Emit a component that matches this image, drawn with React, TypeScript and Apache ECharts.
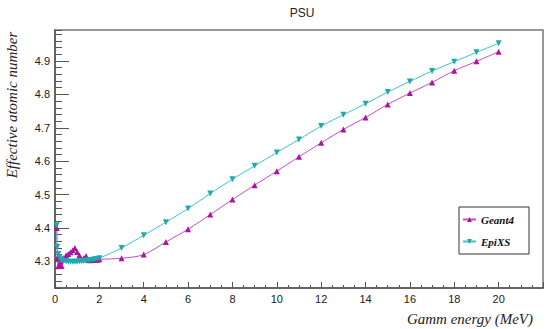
import React, { useEffect, useRef } from "react";
import * as echarts from "echarts";

const energies = [
  0.08, 0.1, 0.15, 0.2, 0.25, 0.3, 0.4, 0.5, 0.6, 0.7, 0.8, 0.9, 1.0, 1.1, 1.2, 1.3, 1.4, 1.5, 1.6, 1.7, 1.8, 1.9, 2.0,
  3, 4, 5, 6, 7, 8, 9, 10, 11, 12, 13, 14, 15, 16, 17, 18, 19, 20,
];

const geant4 = [
  4.4, 4.31, 4.285, 4.29, 4.3, 4.286, 4.31, 4.318, 4.322, 4.327, 4.333, 4.34, 4.328, 4.318, 4.306, 4.31, 4.316, 4.304,
  4.303, 4.304, 4.304, 4.305, 4.306,
  4.309, 4.32, 4.358, 4.396, 4.44, 4.485, 4.528, 4.57, 4.613, 4.655, 4.695, 4.731, 4.77, 4.804, 4.836, 4.871, 4.899, 4.928,
];

const epixs = [
  4.408, 4.343, 4.322, 4.312, 4.306, 4.303, 4.301, 4.3, 4.299, 4.299, 4.299, 4.299, 4.299, 4.3, 4.3, 4.301, 4.302, 4.303,
  4.304, 4.305, 4.306, 4.307, 4.309,
  4.34, 4.378, 4.417, 4.458, 4.503, 4.546, 4.586, 4.626, 4.665, 4.705, 4.739, 4.772, 4.807, 4.839, 4.87, 4.898, 4.926, 4.953,
];

const seriesNames = ["Geant4", "EpiXS"];
const title = "PSU";
const xName = "Gamm energy (MeV)";
const yName = "Effective atomic number";

export default function App() {
  const ref = useRef<HTMLDivElement>(null);
  useEffect(() => {
    if (!ref.current) return;
    document.body.style.margin = "0";
    const chart = echarts.init(ref.current, null, { renderer: "svg" });
    const yMin = 4.22;
    const yMax = 4.993;
    const labelFont = "Liberation Sans";
    const serif = "Liberation Serif";
    chart.setOption({
      animation: false,
      backgroundColor: "#ffffff",
      title: {
        text: title,
        left: 297,
        top: 2,
        textAlign: "center",
        textStyle: { fontSize: 12, fontWeight: "normal", color: "#222", fontFamily: labelFont },
      },
      grid: {
        left: 55,
        right: 7,
        top: 30,
        bottom: 41,
        show: true,
        borderColor: "#777",
        borderWidth: 1.5,
        backgroundColor: "transparent",
      },
      legend: {
        orient: "vertical",
        left: 459,
        top: 207,
        padding: [7, 15, 7, 3],
        itemGap: 11,
        itemWidth: 13,
        itemHeight: 6,
        borderColor: "#333",
        borderWidth: 1,
        backgroundColor: "#fff",
        data: seriesNames,
        textStyle: {
          fontFamily: serif,
          fontStyle: "italic",
          fontWeight: "bold",
          fontSize: 11,
          color: "#111",
        },
      },
      xAxis: {
        type: "value",
        min: 0,
        max: 22,
        interval: 2,
        axisLine: { show: true, lineStyle: { color: "#555", width: 1.5 } },
        axisTick: { show: true, inside: true, length: 6, lineStyle: { color: "#555" } },
        minorTick: { show: true, splitNumber: 4, length: 3, lineStyle: { color: "#555" } },
        axisLabel: { margin: 5, fontSize: 11, color: "#222", fontFamily: labelFont, showMaxLabel: false },
        splitLine: { show: false },
      },
      yAxis: [
        {
          type: "value",
          min: yMin,
          max: yMax,
          splitNumber: 8,
          axisLine: { show: true, lineStyle: { color: "#555", width: 1.5 } },
          axisTick: { show: true, inside: true, length: 14, lineStyle: { color: "#555" } },
          axisLabel: {
            margin: 5,
            fontSize: 11,
            color: "#222",
            fontFamily: labelFont,
            showMinLabel: false,
            showMaxLabel: false,
            formatter: (v: number) => v.toFixed(1),
          },
          splitLine: { show: false },
        },
        {
          type: "value",
          min: yMin,
          max: yMax,
          interval: 0.02,
          position: "left",
          axisLine: { show: false },
          axisTick: { show: true, inside: true, length: 7, lineStyle: { color: "#555" } },
          axisLabel: { show: false },
          splitLine: { show: false },
        },
      ],
      series: [
        {
          name: seriesNames[0],
          type: "line",
          yAxisIndex: 0,
          smooth: 0.3,
          symbol: "triangle",
          symbolSize: 6,
          data: energies.map((e, i) => [e, geant4[i]]),
          lineStyle: { color: "#c44cc4", width: 1 },
          itemStyle: { color: "#a8169f" },
        },
        {
          name: seriesNames[1],
          type: "line",
          yAxisIndex: 0,
          smooth: 0.3,
          symbol: "triangle",
          symbolRotate: 180,
          symbolSize: 6,
          data: energies.map((e, i) => [e, epixs[i]]),
          lineStyle: { color: "#3cc4c4", width: 1 },
          itemStyle: { color: "#1fa9aa" },
        },
      ],
      graphic: [
        {
          type: "text",
          x: 12,
          y: 105,
          rotation: Math.PI / 2,
          style: {
            text: yName,
            textAlign: "center",
            textVerticalAlign: "middle",
            fontFamily: serif,
            fontStyle: "italic",
            fontSize: 15,
            fill: "#222",
          },
        },
        {
          type: "text",
          x: 533,
          y: 319,
          style: {
            text: xName,
            textAlign: "right",
            textVerticalAlign: "middle",
            fontFamily: serif,
            fontStyle: "italic",
            fontSize: 15,
            fill: "#222",
          },
        },
      ],
    });
    return () => chart.dispose();
  }, []);
  return <div ref={ref} style={{ width: 550, height: 329, position: "fixed", left: 0, top: 0 }} />;
}
